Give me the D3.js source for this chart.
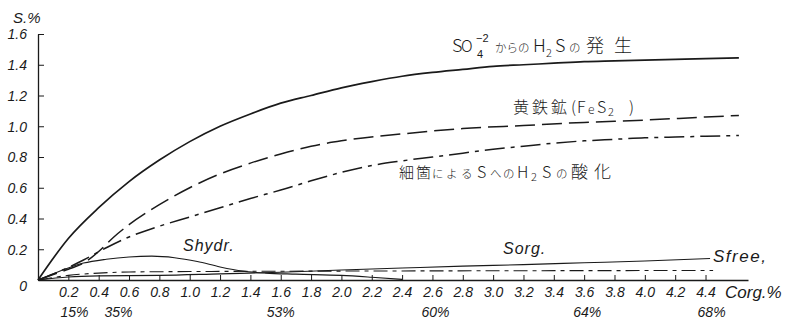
<!DOCTYPE html>
<html>
<head>
<meta charset="utf-8">
<script src="https://cdn.jsdelivr.net/npm/d3@7/dist/d3.min.js"></script>
<style>
  html, body { margin: 0; padding: 0; background: #fff; }
  svg { display: block; }
  .tick text { font-family: "Liberation Sans", Arial, sans-serif; font-style: italic; font-size: 14px; fill: #1a1a1a; }
  .jp { font-family: "Noto Sans CJK JP", "Noto Sans", sans-serif; font-weight: 300; fill: #1a1a1a; }
  .num { font-family: "Liberation Sans", Arial, sans-serif; fill: #1a1a1a; }
  .it { font-family: "Liberation Sans", Arial, sans-serif; font-style: italic; fill: #1a1a1a; }
</style>
</head>
<body>
<svg id="chart" width="792" height="322"></svg>
<script>
// Axis ticks
const corgTicks = [0.2, 0.4, 0.6, 0.8, 1.0, 1.2, 1.4, 1.6, 1.8, 2.0, 2.2, 2.4, 2.6, 2.8, 3.0, 3.2, 3.4, 3.6, 3.8, 4.0, 4.2, 4.4];
const sTicks = [0, 0.2, 0.4, 0.6, 0.8, 1.0, 1.2, 1.4, 1.6];
// Second row under the Corg axis
const pctLabels = ["15%", "35%", "53%", "60%", "64%", "68%"];
const pctCorg = [0.24, 0.53, 1.6, 2.62, 3.62, 4.44];

// H2S produced from sulfate (solid)
const sulfateCorg = [0, 0.2, 0.4, 0.6, 0.8, 1.0, 1.2, 1.4, 1.6, 1.8, 2.0, 2.2, 2.4, 2.6, 2.8, 3.0, 3.2, 3.4, 3.6, 3.8, 4.0, 4.2, 4.4, 4.62];
const sulfateS = [0, 0.27, 0.47, 0.64, 0.78, 0.90, 1.00, 1.08, 1.15, 1.20, 1.25, 1.29, 1.325, 1.35, 1.37, 1.39, 1.40, 1.41, 1.42, 1.425, 1.43, 1.435, 1.44, 1.445];

// Pyrite FeS2 (long dashes)
const pyriteCorg = [0, 0.1, 0.2, 0.3, 0.4, 0.5, 0.6, 0.8, 1.0, 1.2, 1.4, 1.6, 1.8, 2.0, 2.4, 2.8, 3.2, 3.6, 4.0, 4.4, 4.62];
const pyriteS = [0, 0.035, 0.07, 0.11, 0.185, 0.28, 0.36, 0.49, 0.60, 0.69, 0.76, 0.82, 0.87, 0.905, 0.95, 0.985, 1.005, 1.025, 1.04, 1.06, 1.07];

// Bacterial oxidation of H2S to S (dash-dot)
const oxidCorg = [0, 0.15, 0.3, 0.45, 0.6, 0.8, 1.0, 1.2, 1.4, 1.6, 1.8, 2.0, 2.2, 2.4, 2.6, 2.8, 3.0, 3.2, 3.4, 3.6, 3.8, 4.0, 4.2, 4.4, 4.62];
const oxidS = [0, 0.06, 0.13, 0.21, 0.28, 0.35, 0.41, 0.47, 0.53, 0.585, 0.645, 0.70, 0.745, 0.775, 0.80, 0.825, 0.85, 0.87, 0.89, 0.905, 0.915, 0.925, 0.93, 0.935, 0.94];

// S hydr. (thin solid, hump)
const hydrCorg = [0, 0.15, 0.3, 0.45, 0.6, 0.75, 0.9, 1.05, 1.2, 1.35, 1.5, 1.7, 2.0, 2.2, 2.4];
const hydrS = [0, 0.06, 0.11, 0.135, 0.15, 0.155, 0.145, 0.12, 0.085, 0.058, 0.045, 0.038, 0.03, 0.018, 0.004];

// S org. (thin solid, slowly rising)
const orgCorg = [0, 0.2, 0.4, 0.8, 1.2, 1.6, 2.0, 2.4, 2.8, 3.2, 3.6, 4.0, 4.43];
const orgS = [0, 0.02, 0.027, 0.03, 0.04, 0.05, 0.065, 0.078, 0.09, 0.10, 0.112, 0.124, 0.14];

// S free (thin dash-dot)
const freeCorg = [0, 0.2, 0.4, 0.6, 1.0, 2.0, 3.0, 4.45];
const freeS = [0, 0.03, 0.045, 0.052, 0.055, 0.058, 0.06, 0.062];

const svg = d3.select("#chart");
svg.append("rect").attr("width", 792).attr("height", 322).attr("fill", "#fff");

const x = d3.scaleLinear().domain([0, 4.68]).range([38, 748]);
const y = d3.scaleLinear().domain([0, 1.6]).range([280, 34]);

const ink = "#1a1a1a";

// Corg axis
const gx = svg.append("g").attr("transform", `translate(0,${y(0)})`)
  .call(d3.axisBottom(x).tickValues(corgTicks).tickSize(-5).tickSizeOuter(0)
    .tickFormat(d => d.toFixed(1)));
gx.select(".domain").attr("stroke", ink).attr("stroke-width", 1.3);
gx.selectAll(".tick line").attr("stroke", ink).attr("stroke-width", 1);
gx.selectAll(".tick text").attr("dy", null).attr("y", 17);

// S axis
const gy = svg.append("g").attr("transform", `translate(${x(0)},0)`)
  .call(d3.axisLeft(y).tickValues(sTicks).tickSize(-6).tickSizeOuter(0).tickPadding(11)
    .tickFormat(d => d === 0 ? "0" : d.toFixed(1)));
gy.select(".domain").attr("stroke", ink).attr("stroke-width", 1.3);
gy.selectAll(".tick line").attr("stroke", ink).attr("stroke-width", 1);
gy.selectAll(".tick text").attr("dy", d => d === 0 ? "0.75em" : "0.35em");

// percentage row
svg.append("g").selectAll("text").data(pctLabels).join("text")
  .attr("class", "it").attr("font-size", 14).attr("text-anchor", "middle")
  .attr("x", (d, i) => x(pctCorg[i])).attr("y", 317).text(d => d);

// axis titles
svg.append("text").attr("class", "it").attr("font-size", 15).attr("x", 13).attr("y", 23).text("S.%");
svg.append("text").attr("class", "it").attr("font-size", 17).attr("x", 725).attr("y", 298).text("Corg.%");

// curves
const line = d3.line().x(d => x(d[0])).y(d => y(d[1])).curve(d3.curveMonotoneX);
function drawCurve(cs, ss, width, dash) {
  svg.append("path")
    .datum(cs.map((c, i) => [c, ss[i]]))
    .attr("d", line)
    .attr("fill", "none")
    .attr("stroke", ink)
    .attr("stroke-width", width)
    .attr("stroke-dasharray", dash)
    .attr("stroke-linejoin", "round");
}
drawCurve(orgCorg, orgS, 1.1, null);
drawCurve(freeCorg, freeS, 1.1, "14,5,4,5");
drawCurve(hydrCorg, hydrS, 1.1, null);
drawCurve(oxidCorg, oxidS, 1.5, "20,6,4,6");
drawCurve(pyriteCorg, pyriteS, 1.5, "20,7");
drawCurve(sulfateCorg, sulfateS, 1.7, null);

// Label pieces: [text, x, baseline, font size]
function label(pieces) {
  const t = svg.append("text").attr("class", "jp");
  pieces.forEach(([s, px, py, fs]) => {
    t.append("tspan").attr("x", px).attr("y", py).attr("font-size", fs).text(s);
  });
  return t;
}

// H2S from sulfate
label([
  ["S", 452, 52, 18], ["O", 461, 52, 16],
  ["からの", 495, 52, 11.5],
  ["H", 533, 52, 18], ["2", 546, 57, 11], ["S", 555, 52, 18],
  ["の", 569, 52, 11.5], ["発", 586, 52, 18], ["生", 614, 52, 18]
]);
svg.append("text").attr("class", "num").attr("font-size", 11).attr("x", 477).attr("y", 58).text("4");
svg.append("text").attr("class", "num").attr("font-size", 11).attr("x", 476).attr("y", 42).text("−2");

// pyrite
label([
  ["黄", 513, 113, 16], ["鉄", 532, 113, 16], ["鉱", 551, 113, 16],
  ["(", 571, 113, 16], ["F", 577, 113, 16], ["e", 588, 114, 12],
  ["S", 597, 113, 16], ["2", 608, 116, 11], [")", 629, 113, 16]
]);

// bacterial oxidation
label([
  ["細", 399, 178, 15], ["箇", 416, 178, 15],
  ["に", 432, 178, 11.5], ["よ", 446, 178, 11.5], ["る", 461, 178, 11.5],
  ["S", 477, 178, 16], ["へ", 490, 178, 11.5], ["の", 503, 178, 11.5],
  ["H", 517, 178, 16], ["2", 531, 181, 11], ["S", 542, 178, 16],
  ["の", 556, 178, 11.5], ["酸", 571, 178, 17], ["化", 594, 178, 17]
]);

svg.append("text").attr("class", "it").attr("font-size", 16).attr("letter-spacing", 1).attr("x", 183).attr("y", 251).text("Shydr.");
svg.append("text").attr("class", "it").attr("font-size", 16).attr("letter-spacing", 1).attr("x", 503).attr("y", 254).text("Sorg.");
svg.append("text").attr("class", "it").attr("font-size", 17).attr("letter-spacing", 1.5).attr("x", 713).attr("y", 262).text("Sfree,");
</script>
</body>
</html>
